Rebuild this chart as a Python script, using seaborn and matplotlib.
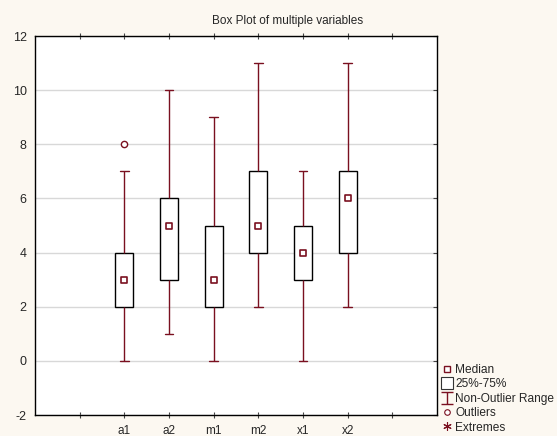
import numpy as np
import pandas as pd
import matplotlib.pyplot as plt
import seaborn as sns
from matplotlib.lines import Line2D
from matplotlib.path import Path

# Kennwerte je Variable
variables = ["a1", "a2", "m1", "m2", "x1", "x2"]
lows = [0, 1, 0, 2, 0, 2]
q1s = [2, 3, 2, 4, 3, 4]
medians = [3, 5, 3, 5, 4, 6]
q3s = [4, 6, 5, 7, 5, 7]
highs = [7, 10, 9, 11, 7, 11]
outlier_vars = ["a1"]
outlier_vals = [8]

# leere Plaetze links und rechts wie im Original
slots = [" "] + variables + ["  "]

maroon = "#7a1020"

# 5-Punkt-Stichprobe je Variable -> Quartile exakt
rows = []
for v, lo, a, m, b, hi in zip(variables, lows, q1s, medians, q3s, highs):
    for val in (lo, a, m, b, hi):
        rows.append((v, val))
df = pd.DataFrame(rows, columns=["variable", "value"])
df_med = pd.DataFrame({"variable": variables, "value": medians})
df_out = pd.DataFrame({"variable": outlier_vars, "value": outlier_vals})

sns.set_style("white")
plt.rcParams["font.family"] = ["Liberation Sans", "DejaVu Sans"]
plt.rcParams["axes.unicode_minus"] = False

fig = plt.figure(figsize=(5.57, 4.36), dpi=100, facecolor="#fcf8f1")
ax = fig.add_axes([35 / 557, 1 - 415 / 436, 402 / 557, 379 / 436])
ax.set_facecolor("white")

sns.boxplot(data=df, x="variable", y="value", order=slots, ax=ax,
            whis=(0, 100), width=0.4, color="white", linecolor="black",
            linewidth=1, showfliers=False,
            whiskerprops={"color": maroon}, capprops={"color": maroon},
            medianprops={"visible": False})
sns.stripplot(data=df_med, x="variable", y="value", order=slots, ax=ax,
              jitter=False, marker="s", size=4.2, color="white",
              edgecolor=maroon, linewidth=1.2, zorder=5)
sns.stripplot(data=df_out, x="variable", y="value", order=slots, ax=ax,
              jitter=False, marker="o", size=4.5, color="white",
              edgecolor=maroon, linewidth=1, zorder=5)

ax.set_xlim(-1, len(slots))
ax.set_ylim(-2, 12)
ax.set_yticks(range(-2, 13, 2))
ax.yaxis.grid(True, color="#d8d8d8", linewidth=1)
ax.set_axisbelow(True)
ax.set_xlabel("")
ax.set_ylabel("")
for s in ax.spines.values():
    s.set_color("black")
    s.set_linewidth(1)
ax.tick_params(axis="x", top=True, bottom=True, direction="inout", length=4,
               labelsize=8.5, pad=5, color="#444444")
ax.tick_params(axis="y", left=False, right=True, direction="in", length=3,
               labelsize=9, pad=6, color="#444444")

fig.text(288 / 557, 1 - 21 / 436, "Box Plot of multiple variables",
         ha="center", va="center", fontsize=8.5)

# Legende im Stil von STATISTICA
ibeam = Path([(-1, 1), (1, 1), (0, 1), (0, -1), (-1, -1), (1, -1)],
             [Path.MOVETO, Path.LINETO, Path.MOVETO, Path.LINETO,
              Path.MOVETO, Path.LINETO])
handles = [
    Line2D([], [], ls="none", marker="s", ms=4.5, mfc="white", mec=maroon, mew=1),
    Line2D([], [], ls="none", marker="s", ms=9, mfc="white", mec="#333333", mew=0.8),
    Line2D([], [], ls="none", marker=ibeam, ms=9, mfc="none", mec=maroon, mew=1),
    Line2D([], [], ls="none", marker="o", ms=4, mfc="white", mec=maroon, mew=0.8),
    Line2D([], [], ls="none", marker=(6, 2, 0), ms=6, mec=maroon, mew=0.8),
]
labels = ["Median", "25%-75%", "Non-Outlier Range", "Outliers", "Extremes"]
fig.legend(handles, labels, loc="upper left",
           bbox_to_anchor=(442 / 557, 1 - 364 / 436), frameon=False,
           fontsize=8.6, handlelength=0.8, handletextpad=0.3,
           labelspacing=0.2, borderpad=0, borderaxespad=0)

fig.savefig("out.png", dpi=100, facecolor=fig.get_facecolor())
